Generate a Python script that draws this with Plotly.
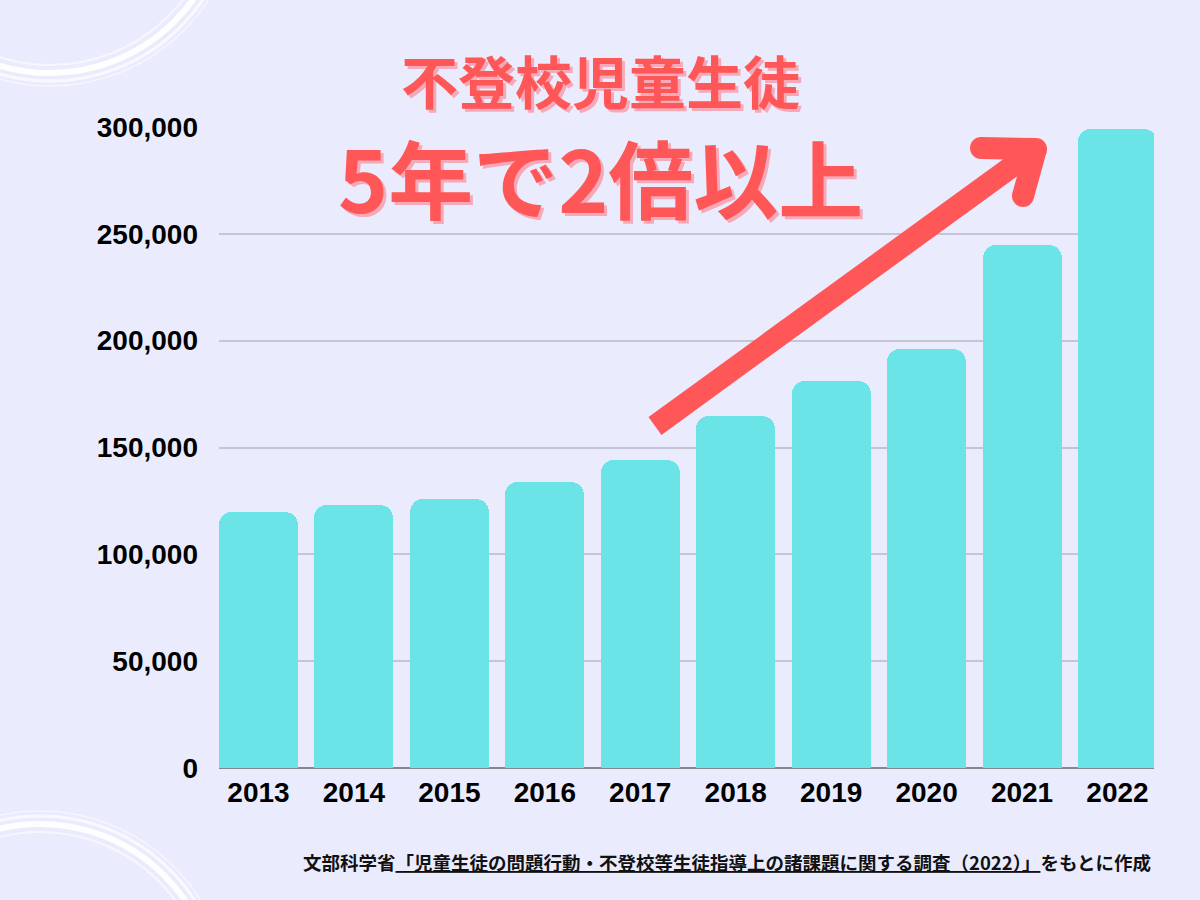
import plotly.graph_objects as go

years = ["2013", "2014", "2015", "2016", "2017", "2018", "2019", "2020", "2021", "2022"]
students = [119617, 122897, 125991, 133683, 144031, 164528, 181272, 196127, 244940, 299048]
y_ticks = [0, 50000, 100000, 150000, 200000, 250000, 300000]
y_tick_labels = ["0", "50,000", "100,000", "150,000", "200,000", "250,000", "300,000"]
title_line1 = "不登校児童生徒"
title_line2 = "5年で2倍以上"
source_pre = "文部科学省"
source_title = "「児童生徒の問題行動・不登校等生徒指導上の諸課題に関する調査（2022）」"
source_post = "をもとに作成"

BG = "#EAECFD"
BAR = "#6BE4E8"
RED = "#FF5757"
SHADOW = "#F6A9B8"

# plot-area pixel box
L, R, T, B = 219, 1154, 127, 768
W, H = R - L, B - T
def px(x):
    return (x - L) / W
def py(y):
    return (B - y) / H

step = 95.44
bw = 79 / step
x0 = -bw / 2
x1 = x0 + W / step
xs = list(range(len(years)))

fig = go.Figure()
fig.add_trace(go.Bar(
    x=xs, y=students, width=bw,
    marker=dict(color=BAR, cornerradius=13, line=dict(width=0)),
    hoverinfo="skip",
))

shapes = []
# decorative brush circles
def circ(cx, cy, r, width, op):
    return dict(type="circle", xref="paper", yref="paper",
                x0=px(cx - r), x1=px(cx + r), y0=py(cy + r), y1=py(cy - r),
                line=dict(color="white", width=width), opacity=op, layer="below")
for (cx, cy) in [(50, -103), (40, 1000)]:
    shapes.append(circ(cx, cy, 176, 6, 0.95))
    shapes.append(circ(cx, cy, 184, 3, 0.7))
    shapes.append(circ(cx, cy, 168, 2, 0.6))
    shapes.append(circ(cx, cy, 189, 1.5, 0.5))

# arrow
AW = 22
def seg(a, b):
    return dict(type="line", xref="paper", yref="paper",
                x0=px(a[0]), y0=py(a[1]), x1=px(b[0]), y1=py(b[1]),
                line=dict(color=RED, width=AW), layer="above")
def cap(c):
    r = AW / 2
    return dict(type="circle", xref="paper", yref="paper",
                x0=px(c[0] - r), x1=px(c[0] + r), y0=py(c[1] + r), y1=py(c[1] - r),
                fillcolor=RED, line=dict(width=0), layer="above")
tail = (655, 426)
tip = (1036, 149)
p1 = (981, 148)
p2 = (1023, 196)
shapes += [seg(tail, tip), seg(p1, tip), seg(tip, p2), cap(p1), cap(tip), cap(p2)]

annotations = []
def title(text, cx, cy, size):
    annotations.append(dict(
        text=text, xref="paper", yref="paper", x=px(cx), y=py(cy),
        xanchor="center", yanchor="middle", showarrow=False,
        font=dict(family="Noto Sans CJK JP", size=size, color=RED, weight="bold",
                  shadow="3px 3px 0px " + SHADOW)))
title(title_line1, 600, 79, 57)
title(title_line2, 600, 176, 85)

annotations.append(dict(
    text=source_pre + "<span style='text-decoration:underline'>" + source_title + "</span>" + source_post,
    xref="paper", yref="paper", x=px(1153), y=py(862), xanchor="right", yanchor="middle",
    showarrow=False,
    font=dict(family="Noto Sans CJK JP", size=18.5, color="#111111", weight="bold")))

fig.update_layout(
    width=1200, height=900,
    paper_bgcolor=BG, plot_bgcolor=BG,
    margin=dict(l=L, r=1200 - R, t=T, b=900 - B),
    showlegend=False,
    shapes=shapes,
    annotations=annotations,
    bargap=0,
)
fig.update_xaxes(
    range=[x0, x1], tickmode="array", tickvals=xs, ticktext=years,
    showgrid=False, zeroline=False, showline=False, ticks="",
    ticklabelstandoff=5,
    tickfont=dict(family="Liberation Sans", size=28, color="black", weight="bold"),
)
fig.update_yaxes(
    range=[0, 300000], tickmode="array", tickvals=y_ticks, ticktext=y_tick_labels,
    showgrid=True, gridcolor="#C4C6D6", gridwidth=1.5,
    zeroline=True, zerolinecolor="#858590", zerolinewidth=1.5,
    showline=False, ticks="", ticklabelstandoff=20,
    tickfont=dict(family="Liberation Sans", size=28, color="black", weight="bold"),
)

fig.write_html("out.html", config={"displayModeBar": False},
               post_script="document.body.style.margin='0';document.body.style.overflow='hidden';")
